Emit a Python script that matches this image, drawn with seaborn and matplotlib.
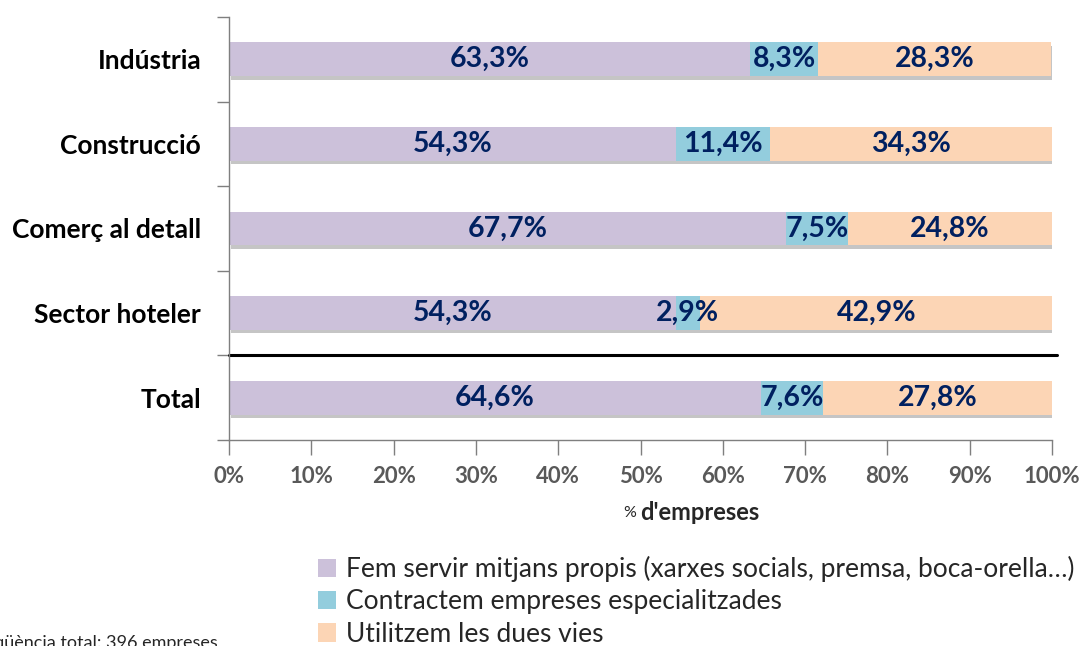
import matplotlib
matplotlib.use("Agg")
import matplotlib.pyplot as plt
import matplotlib.patheffects as pe
import seaborn as sns
import pandas as pd
import numpy as np

categories = ["Indústria", "Construcció", "Comerç al detall", "Sector hoteler", "Total"]
propis = [63.3, 54.3, 67.7, 54.3, 64.6]
contractem = [8.3, 11.4, 7.5, 2.9, 7.6]
dues_vies = [28.3, 34.3, 24.8, 42.9, 27.8]
series_names = ["Fem servir mitjans propis (xarxes socials, premsa, boca-orella…)",
                "Contractem empreses especialitzades",
                "Utilitzem les dues vies"]
xtick_labels = ["0%", "10%", "20%", "30%", "40%", "50%", "60%", "70%", "80%", "90%", "100%"]
colors = ["#CCC1DA", "#93CDDD", "#FCD5B5"]
label_color = "#002060"

sns.set_theme(style="white")
plt.rcParams["font.family"] = ["Lato", "DejaVu Sans"]

df = pd.DataFrame({"cat": categories, "a": propis, "b": contractem, "c": dues_vies})
df["ab"] = df["a"] + df["b"]
df["abc"] = df["ab"] + df["c"]

fig = plt.figure(figsize=(10.85, 6.46), dpi=100)
ax = fig.add_axes([229/1085, 1-440/646, (1052-229)/1085, (440-17)/646])

w = 0.4
sns.barplot(data=df, y="cat", x="abc", color=colors[2], width=w, ax=ax,
            orient="h", saturation=1, edgecolor="none", linewidth=0)
for p in ax.patches:
    p.set_path_effects([pe.SimplePatchShadow(offset=(1.5, -2.5), shadow_rgbFace="#808080", alpha=0.45), pe.Normal()])
sns.barplot(data=df, y="cat", x="ab", color=colors[1], width=w, ax=ax,
            orient="h", saturation=1, edgecolor="none", linewidth=0)
sns.barplot(data=df, y="cat", x="a", color=colors[0], width=w, ax=ax,
            orient="h", saturation=1, edgecolor="none", linewidth=0)

def fmt(v):
    return f"{v:.1f}%".replace(".", ",")

for i, row in df.iterrows():
    starts = [0, row["a"], row["ab"]]
    vals = [row["a"], row["b"], row["c"]]
    for s, v in zip(starts, vals):
        ax.text(s + v/2, i, fmt(v), ha="center", va="center",
                fontsize=20.5, fontweight="bold", color=label_color)

ax.set_xlim(0, 100)
ax.set_ylim(4.5, -0.5)
ax.set_xticks(np.arange(0, 101, 10))
ax.set_xticklabels(xtick_labels, fontsize=16, fontweight="bold", color="#595959")
ax.set_yticks(range(len(categories)))
ax.set_yticklabels(categories, fontsize=19, fontweight="bold", color="black")
ax.tick_params(axis="y", length=0, pad=20)
ax.set_yticks(np.arange(-0.5, 5.0, 1.0), minor=True)
ax.tick_params(axis="y", which="minor", length=9, color="#7f7f7f", width=1, left=True, direction="out")
ax.tick_params(axis="x", length=11, color="#7f7f7f", width=1, bottom=True, direction="out", pad=8)
ax.set_ylabel("")
ax.set_xlabel("")

for s in ["top", "right"]:
    ax.spines[s].set_visible(False)
ax.spines["left"].set_color("#7f7f7f")
ax.spines["bottom"].set_color("#7f7f7f")
ax.spines["left"].set_linewidth(1)
ax.spines["bottom"].set_linewidth(1)

ax.plot([0, 100.6], [3.5, 3.5], color="black", lw=2.2, clip_on=False)

fig.text(636/1085, 1-513/646, "%", ha="right", va="center", fontsize=11.5, color="#262626")
fig.text(640/1085, 1-512/646, "d'empreses", ha="left", va="center",
         fontsize=17, fontweight="bold", color="#262626")

from matplotlib.patches import Patch
handles = [Patch(facecolor=c, edgecolor="none") for c in colors]
leg = fig.legend(handles, series_names, loc="upper left", bbox_to_anchor=(318/1085, 1-556/646),
                 frameon=False, fontsize=19, handlelength=0.7, handleheight=0.7,
                 handletextpad=0.35, labelspacing=0.28, borderpad=0, borderaxespad=0)
for t in leg.get_texts():
    t.set_color("#262626")

fig.text(218/1085, 1-635/646, "Freqüència total: 396 empreses", ha="right", va="top",
         fontsize=13, color="#262626")

fig.savefig("out.png", dpi=100)
